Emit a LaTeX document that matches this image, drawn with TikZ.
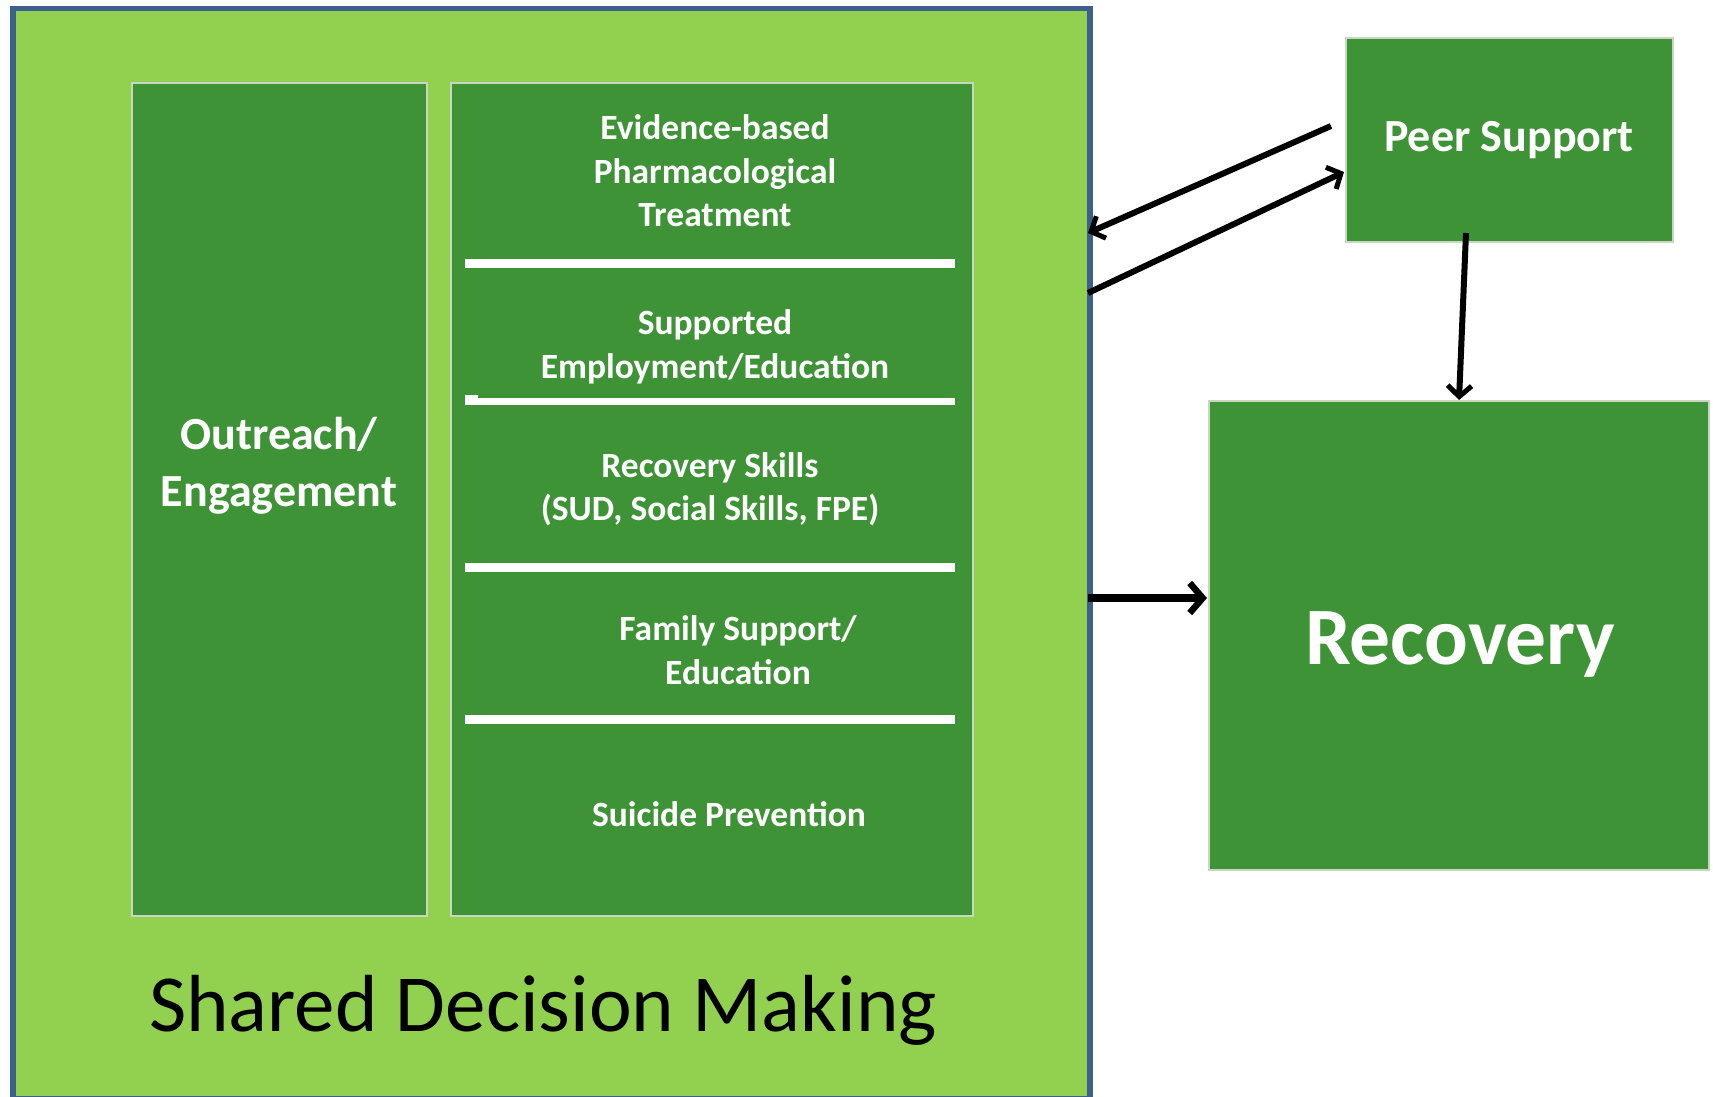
\documentclass[tikz,border=0pt]{standalone}
\usepackage{fontspec}
\setmainfont{Carlito}
\usetikzlibrary{arrows.meta}
\definecolor{lightg}{HTML}{92D050}
\definecolor{darkg}{HTML}{3F9337}
\definecolor{bordb}{HTML}{3D5F8E}
\definecolor{edgeg}{HTML}{C9D7C2}
\begin{document}
\begin{tikzpicture}[x=1pt,y=-1pt,
  box/.style={draw=edgeg,line width=2pt,fill=darkg,inner sep=0pt,anchor=north west},
  wtxt/.style={text=white,font=\bfseries,align=center,inner sep=0pt},
  itxt/.style={wtxt,font=\bfseries\fontsize{35.5}{43.5}\selectfont},
  sep/.style={fill=white,draw=none},
  arr/.style={line width=6pt,-{Straight Barb[length=11pt,width=24pt,line width=5pt]}}]
\useasboundingbox (0,0) rectangle (1713,1097);
% outer box
\node[draw=bordb,line width=5.5pt,fill=lightg,minimum width=1077pt,minimum height=1090pt,anchor=north west,inner sep=0pt] (outer) at (10,6) {};
% inner boxes
\node[box,minimum width=295pt,minimum height=833pt] (leftbox) at (131,82) {};
\node[box,minimum width=522pt,minimum height=833pt] (rightbox) at (450,82) {};
% separators
\fill[sep] (465,259) rectangle (955,268);
\fill[sep] (465,398) rectangle (955,405);
\fill[sep] (465,395) rectangle (478,398);
\fill[sep] (465,563) rectangle (955,572);
\fill[sep] (465,715) rectangle (955,724);
% texts
\node[itxt] (t1) at (715,171) {Evidence-based\\Pharmacological\\Treatment};
\node[itxt] (t2) at (715,347) {Supported\\Employment/Education};
\node[itxt] (t3) at (710,489) {Recovery Skills\\(SUD, Social Skills, FPE)};
\node[itxt] (t4) at (738,650) {Family Support/\\Education};
\node[itxt] (t5) at (729,814) {Suicide Prevention};
\node[wtxt,font=\bfseries\fontsize{46}{57}\selectfont] (t0) at (279,466) {Outreach/\\Engagement};
\node[text=black,font=\fontsize{81}{96}\selectfont,inner sep=0pt] (sdm) at (543,1010) {Shared Decision Making};
% right boxes
\node[box,minimum width=327pt,minimum height=204pt] (peer) at (1345,37) {};
\node[wtxt,font=\bfseries\fontsize{46}{55}\selectfont] (peert) at (1509,140) {Peer Support};
\node[box,minimum width=500pt,minimum height=469pt] (recovery) at (1208,400) {};
\node[wtxt,font=\bfseries\fontsize{81.5}{96}\selectfont] (rect) at (1460,644) {Recovery};
% connector endpoints
\coordinate (a1s) at (1331,126);
\coordinate (a1e) at (1088,233);
\coordinate (a2s) at (1088,293);
\coordinate (a2e) at (1344,172);
\coordinate (a3s) at (1466,233);
\coordinate (a4s) at (1088,598);
\coordinate (a4e) at (1207,598);
\draw[arr] (a1s) -- (a1e);
\draw[arr] (a2s) -- (a2e);
\draw[arr] (a3s) -- (recovery.north);
\draw[line width=8pt,-{Straight Barb[length=13pt,width=30pt,line width=6.5pt]}] (a4s) -- (a4e);
\end{tikzpicture}
\end{document}
